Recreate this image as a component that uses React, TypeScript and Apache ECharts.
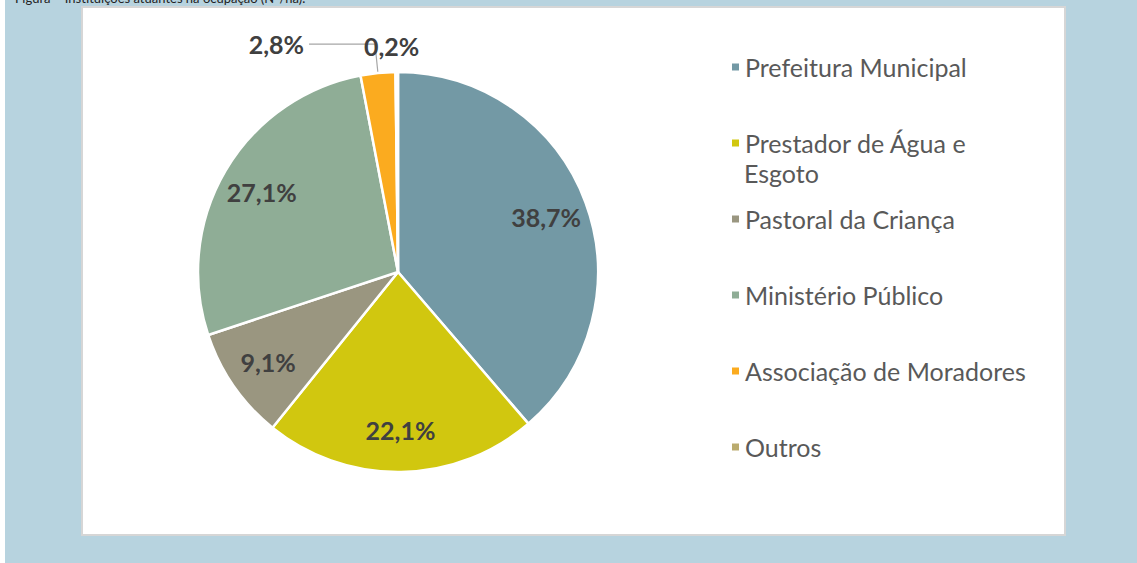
import React, { useEffect, useRef } from "react";
import * as echarts from "echarts";

const categories = [
  "Prefeitura Municipal",
  "Prestador de Água e Esgoto",
  "Pastoral da Criança",
  "Ministério Público",
  "Associação de Moradores",
  "Outros",
];
const values = [38.7, 22.1, 9.1, 27.1, 2.8, 0.2];
const colors = ["#7399A5", "#D1C70F", "#9A9680", "#8FAD96", "#FBAB1F", "#BAAB6E"];
const captionText = "Figura – Instituições atuantes na ocupação (Nº/ha).";

const FONT = "Lato";
const fmt = (v: number) => `${v.toFixed(1).replace(".", ",")}%`;

export default function App() {
  const ref = useRef<HTMLDivElement>(null);

  useEffect(() => {
    if (!ref.current) return;
    const chart = echarts.init(ref.current, null, { renderer: "svg" });

    const mainData = categories.map((name, i) => {
      const small = i >= 4;
      return {
        name,
        value: values[i],
        itemStyle: { color: colors[i] },
        label: small
          ? {
              show: true,
              position: "outside",
              formatter: () => fmt(values[i]),
              fontSize: 25,
              fontWeight: "bold",
              fontFamily: FONT,
              color: "#404040",
            }
          : { show: false },
        labelLine: small
          ? {
              show: i === 4,
              length: i === 4 ? 29 : 26,
              length2: i === 4 ? 66 : 0,
              lineStyle: { color: "#A6A6A6", width: 1.2 },
            }
          : { show: false },
      };
    });

    const overlayData = categories.map((name, i) => ({
      name,
      value: values[i],
      itemStyle: { color: "rgba(0,0,0,0)" },
      label: { show: i < 4 },
    }));

    chart.setOption({
      animation: false,
      backgroundColor: "#B7D3DF",
      graphic: [
        {
          type: "rect",
          shape: { x: 0, y: 0, width: 5, height: 563 },
          style: { fill: "#ffffff" },
          silent: true,
        },
        {
          type: "text",
          x: 15,
          y: 4,
          style: {
            text: captionText,
            fontSize: 13,
            fontFamily: FONT,
            fill: "#222222",
            verticalAlign: "bottom",
          },
          silent: true,
        },
        {
          type: "rect",
          shape: { x: 82, y: 7, width: 983, height: 528 },
          style: { fill: "#ffffff", stroke: "#D6D6D6", lineWidth: 2 },
          silent: true,
          z: -10,
        },
        {
          type: "text",
          x: 744,
          y: 173,
          style: {
            text: "Esgoto",
            fontSize: 25,
            fontFamily: FONT,
            fill: "#595959",
            verticalAlign: "middle",
          },
          silent: true,
        },
      ],
      legend: {
        orient: "vertical",
        left: 730,
        top: 54,
        padding: 0,
        itemWidth: 9,
        itemHeight: 9,
        itemGap: 50,
        icon: "rect",
        selectedMode: false,
        data: categories,
        formatter: (name: string) =>
          name === "Prestador de Água e Esgoto" ? "Prestador de Água e" : name,
        textStyle: {
          fontSize: 25,
          fontFamily: FONT,
          color: "#595959",
          lineHeight: 26,
        },
      },
      series: [
        {
          type: "pie",
          name: "main",
          center: [398, 272],
          radius: [0, 200],
          startAngle: 90,
          clockwise: true,
          avoidLabelOverlap: false,
          itemStyle: { borderColor: "#ffffff", borderWidth: 2.5 },
          emphasis: { disabled: true },
          labelLayout: (p: any) => (p.dataIndex === 5 ? { align: "center" } : {}),
          data: mainData,
        },
        {
          type: "pie",
          name: "labels",
          center: [398, 272],
          radius: [110, 200],
          startAngle: 90,
          clockwise: true,
          silent: true,
          avoidLabelOverlap: false,
          emphasis: { disabled: true },
          itemStyle: { borderWidth: 0 },
          label: {
            position: "inside",
            formatter: (p: any) => fmt(p.value),
            fontSize: 25,
            fontWeight: "bold",
            fontFamily: FONT,
            color: "#404040",
          },
          labelLine: { show: false },
          data: overlayData,
        },
      ],
    });

    return () => chart.dispose();
  }, []);

  return (
    <div
      ref={ref}
      style={{ position: "absolute", left: 0, top: 0, width: 1137, height: 563 }}
    />
  );
}
